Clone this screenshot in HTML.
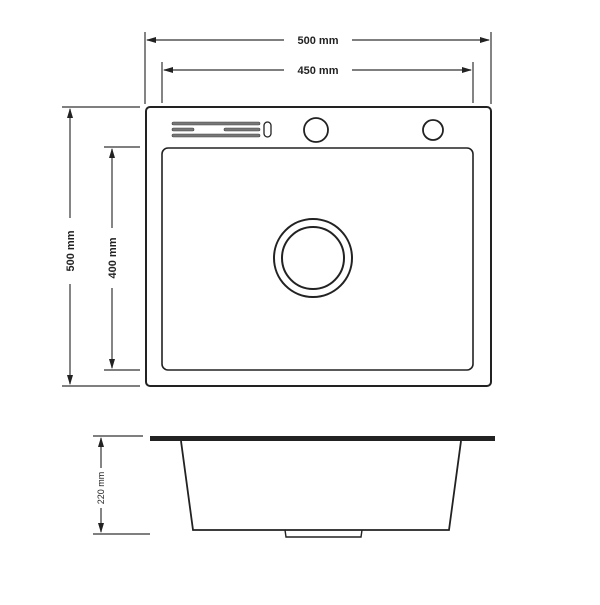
<!DOCTYPE html>
<html><head><style>body{margin:0;background:#fff}</style></head><body>
<svg width="600" height="600" xmlns="http://www.w3.org/2000/svg" font-family="Liberation Sans, sans-serif">
<defs>
<marker id="a" markerWidth="10" markerHeight="8" refX="9" refY="4" orient="auto" markerUnits="userSpaceOnUse"><path d="M0,1 L10,4 L0,7 Z" fill="#222"/></marker>
</defs>
<g stroke="#333" stroke-width="1.2" fill="none">
<!-- top dims -->
<line x1="145" y1="32" x2="145" y2="104"/><line x1="491" y1="32" x2="491" y2="104"/>
<line x1="162" y1="62" x2="162" y2="103"/><line x1="473" y1="62" x2="473" y2="103"/>
<line x1="284" y1="40" x2="147" y2="40" marker-end="url(#a)"/><line x1="352" y1="40" x2="489" y2="40" marker-end="url(#a)"/>
<line x1="284" y1="70" x2="164" y2="70" marker-end="url(#a)"/><line x1="352" y1="70" x2="471" y2="70" marker-end="url(#a)"/>
<!-- left dims -->
<line x1="62" y1="107" x2="140" y2="107"/><line x1="62" y1="386" x2="140" y2="386"/>
<line x1="104" y1="147" x2="140" y2="147"/><line x1="104" y1="370" x2="140" y2="370"/>
<line x1="70" y1="218" x2="70" y2="109" marker-end="url(#a)"/><line x1="70" y1="284" x2="70" y2="384" marker-end="url(#a)"/>
<line x1="112" y1="228" x2="112" y2="149" marker-end="url(#a)"/><line x1="112" y1="288" x2="112" y2="368" marker-end="url(#a)"/>
</g>
<g fill="#222" font-weight="bold" font-size="11">
<text x="318" y="44" text-anchor="middle">500 mm</text>
<text x="318" y="74" text-anchor="middle">450 mm</text>
<text transform="translate(74,251) rotate(-90)" text-anchor="middle">500 mm</text>
<text transform="translate(116,258) rotate(-90)" text-anchor="middle">400 mm</text>
</g>
<!-- top view -->
<g stroke="#222" fill="none">
<rect x="146" y="107" width="345" height="279" rx="4" stroke-width="2"/>
<rect x="162" y="148" width="311" height="222" rx="6" stroke-width="1.6"/>
<circle cx="313" cy="258" r="39" stroke-width="2"/>
<circle cx="313" cy="258" r="31" stroke-width="2"/>
<circle cx="316" cy="130" r="12" stroke-width="1.8"/>
<circle cx="433" cy="130" r="10" stroke-width="1.8"/>
<rect x="264" y="122" width="7" height="15" rx="3.5" stroke-width="1.3"/>
</g>
<g fill="#777" stroke="#444" stroke-width="0.6">
<rect x="172" y="122" width="88" height="3" rx="1.5"/>
<rect x="172" y="128" width="22" height="3" rx="1.5"/>
<rect x="224" y="128" width="36" height="3" rx="1.5"/>
<rect x="172" y="134" width="88" height="3" rx="1.5"/>
</g>
<!-- side view -->
<rect x="150" y="436" width="345" height="5" fill="#222"/>
<path d="M181,441 L193,530 L449,530 L461,441" fill="none" stroke="#222" stroke-width="1.8"/>
<path d="M285,530 L286,537 L361,537 L362,530" fill="none" stroke="#222" stroke-width="1.4"/>
<g stroke="#333" stroke-width="1.2">
<line x1="93" y1="436" x2="143" y2="436"/><line x1="93" y1="534" x2="150" y2="534"/>
<line x1="101" y1="468" x2="101" y2="438" marker-end="url(#a)"/><line x1="101" y1="508" x2="101" y2="532" marker-end="url(#a)"/>
</g>
<text transform="translate(104,488) rotate(-90)" text-anchor="middle" font-size="9" fill="#222">220 mm</text>
</svg>
</body></html>
